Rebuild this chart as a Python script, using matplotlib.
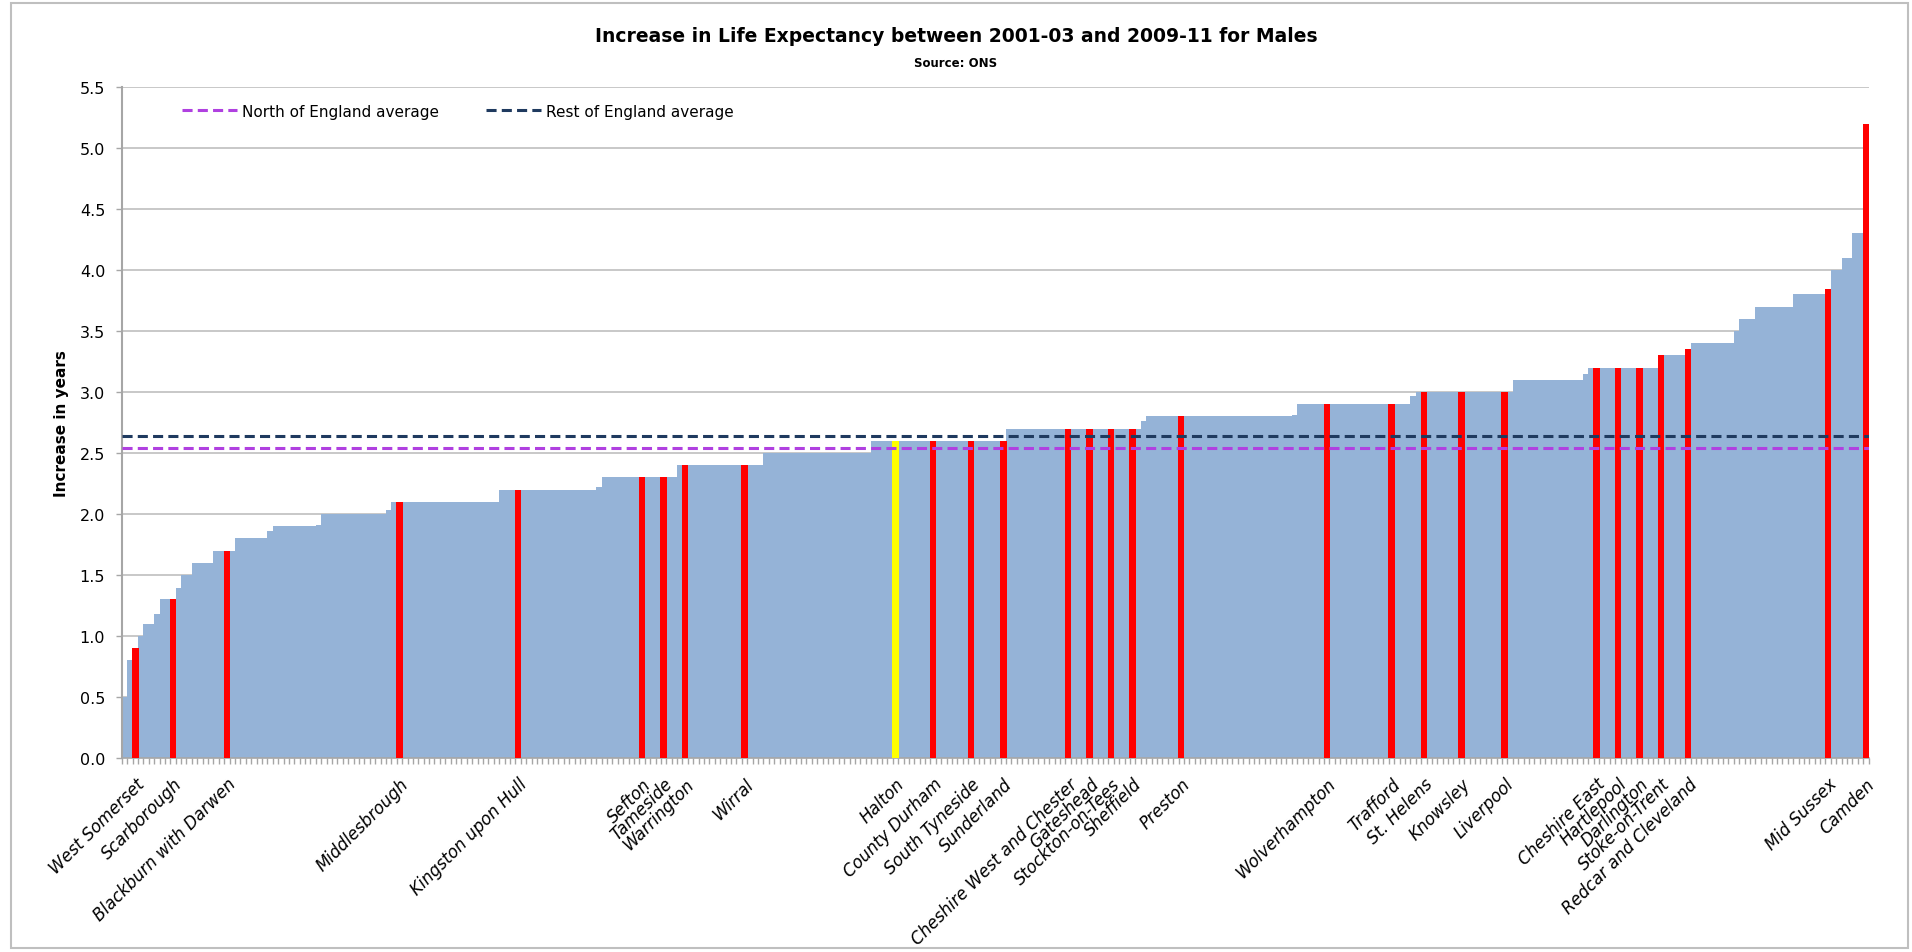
import matplotlib
matplotlib.use("Agg")
import matplotlib.pyplot as plt
from matplotlib.patches import Rectangle
import numpy as np

# increase in male life expectancy, 324 local authorities, sorted
values = [
    0.5, 0.8, 0.9, 1.0, 1.1, 1.1, 1.18, 1.3, 1.3, 1.3,
    1.39, 1.5, 1.5, 1.6, 1.6, 1.6, 1.6, 1.7, 1.7, 1.7,
    1.7, 1.8, 1.8, 1.8, 1.8, 1.8, 1.8, 1.86, 1.9, 1.9,
    1.9, 1.9, 1.9, 1.9, 1.9, 1.9, 1.91, 2.0, 2.0, 2.0,
    2.0, 2.0, 2.0, 2.0, 2.0, 2.0, 2.0, 2.0, 2.0, 2.03,
    2.1, 2.1, 2.1, 2.1, 2.1, 2.1, 2.1, 2.1, 2.1, 2.1,
    2.1, 2.1, 2.1, 2.1, 2.1, 2.1, 2.1, 2.1, 2.1, 2.1,
    2.2, 2.2, 2.2, 2.2, 2.2, 2.2, 2.2, 2.2, 2.2, 2.2,
    2.2, 2.2, 2.2, 2.2, 2.2, 2.2, 2.2, 2.2, 2.22, 2.3,
    2.3, 2.3, 2.3, 2.3, 2.3, 2.3, 2.3, 2.3, 2.3, 2.3,
    2.3, 2.3, 2.3, 2.4, 2.4, 2.4, 2.4, 2.4, 2.4, 2.4,
    2.4, 2.4, 2.4, 2.4, 2.4, 2.4, 2.4, 2.4, 2.4, 2.5,
    2.5, 2.5, 2.5, 2.5, 2.5, 2.5, 2.5, 2.5, 2.5, 2.5,
    2.5, 2.5, 2.5, 2.5, 2.5, 2.5, 2.5, 2.5, 2.5, 2.6,
    2.6, 2.6, 2.6, 2.6, 2.6, 2.6, 2.6, 2.6, 2.6, 2.6,
    2.6, 2.6, 2.6, 2.6, 2.6, 2.6, 2.6, 2.6, 2.6, 2.6,
    2.6, 2.6, 2.6, 2.6, 2.7, 2.7, 2.7, 2.7, 2.7, 2.7,
    2.7, 2.7, 2.7, 2.7, 2.7, 2.7, 2.7, 2.7, 2.7, 2.7,
    2.7, 2.7, 2.7, 2.7, 2.7, 2.7, 2.7, 2.7, 2.7, 2.76,
    2.8, 2.8, 2.8, 2.8, 2.8, 2.8, 2.8, 2.8, 2.8, 2.8,
    2.8, 2.8, 2.8, 2.8, 2.8, 2.8, 2.8, 2.8, 2.8, 2.8,
    2.8, 2.8, 2.8, 2.8, 2.8, 2.8, 2.8, 2.81, 2.9, 2.9,
    2.9, 2.9, 2.9, 2.9, 2.9, 2.9, 2.9, 2.9, 2.9, 2.9,
    2.9, 2.9, 2.9, 2.9, 2.9, 2.9, 2.9, 2.9, 2.9, 2.97,
    3.0, 3.0, 3.0, 3.0, 3.0, 3.0, 3.0, 3.0, 3.0, 3.0,
    3.0, 3.0, 3.0, 3.0, 3.0, 3.0, 3.0, 3.0, 3.1, 3.1,
    3.1, 3.1, 3.1, 3.1, 3.1, 3.1, 3.1, 3.1, 3.1, 3.1,
    3.1, 3.15, 3.2, 3.2, 3.2, 3.2, 3.2, 3.2, 3.2, 3.2,
    3.2, 3.2, 3.2, 3.2, 3.2, 3.3, 3.3, 3.3, 3.3, 3.3,
    3.35, 3.4, 3.4, 3.4, 3.4, 3.4, 3.4, 3.4, 3.4, 3.5,
    3.6, 3.6, 3.6, 3.7, 3.7, 3.7, 3.7, 3.7, 3.7, 3.7,
    3.8, 3.8, 3.8, 3.8, 3.8, 3.8, 3.84, 4.0, 4.0, 4.1,
    4.1, 4.3, 4.3, 5.2,
]

# rank position of the named areas
label_idx = [2, 9, 19, 51, 73, 96, 100, 104, 115, 143, 150, 157, 163, 175, 179,
             183, 187, 196, 223, 235, 241, 248, 256, 273, 277, 281, 285, 290, 316, 323]
label_names = ["West Somerset", "Scarborough", "Blackburn with Darwen", "Middlesbrough",
               "Kingston upon Hull", "Sefton", "Tameside", "Warrington", "Wirral", "Halton",
               "County Durham", "South Tyneside", "Sunderland", "Cheshire West and Chester",
               "Gateshead", "Stockton-on-Tees", "Sheffield", "Preston", "Wolverhampton",
               "Trafford", "St. Helens", "Knowsley", "Liverpool", "Cheshire East",
               "Hartlepool", "Darlington", "Stoke-on-Trent", "Redcar and Cleveland",
               "Mid Sussex", "Camden"]
focus_name = "Halton"

north_avg = 2.54
rest_avg = 2.64

fig = plt.figure(figsize=(19.12, 9.53), dpi=100)
ax = fig.add_axes([0.0637, 0.2036, 0.9136, 0.7041])

x = np.arange(len(values))
ax.bar(x, values, width=1.0, color="#95B3D7", linewidth=0, antialiased=False, zorder=2)

hv = [values[i] for i in label_idx]
hc = ["#FFFF00" if n == focus_name else "#FF0000" for n in label_names]
ax.bar(label_idx, hv, width=1.2, color=hc, linewidth=0, zorder=3)

ax.axhline(north_avg, color="#B040E0", lw=2.2, dashes=(3.3, 1.7), zorder=4,
           label="North of England average")
ax.axhline(rest_avg, color="#1F3A5F", lw=2.2, dashes=(3.3, 1.7), zorder=4,
           label="Rest of England average")

ax.set_xlim(-0.5, len(values) - 0.5)
ax.set_ylim(0, 5.5)
ax.set_yticks(np.arange(0, 5.51, 0.5))
ax.set_yticklabels(["%.1f" % t for t in np.arange(0, 5.51, 0.5)], fontsize=11.5)
ax.yaxis.grid(True, color="#BFBFBF", lw=1.2, zorder=0)
ax.set_axisbelow(True)

ax.set_xticks(label_idx)
ax.set_xticklabels(label_names, rotation=45, ha="right", rotation_mode="anchor",
                   fontsize=12, style="italic")
ax.set_xticks(np.arange(-0.5, len(values), 1), minor=True)
ax.tick_params(axis="x", which="major", length=0, pad=12)
ax.tick_params(axis="x", which="minor", length=4, color="#A6A6A6", width=1)
ax.tick_params(axis="y", length=4, color="#A6A6A6", width=1, pad=8)

for s in ["top", "right"]:
    ax.spines[s].set_visible(False)
ax.spines["left"].set_color("#A6A6A6")
ax.spines["left"].set_linewidth(1.5)
ax.spines["bottom"].set_color("#A6A6A6")
ax.spines["bottom"].set_linewidth(1.2)

ax.set_ylabel("Increase in years", fontsize=11, fontweight="bold",
              family=["Liberation Sans Narrow", "DejaVu Sans"], labelpad=8)

ax.legend(loc="upper left", bbox_to_anchor=(0.0345, 0.975), ncol=2, frameon=False,
          fontsize=11, handlelength=3.6, handletextpad=0.3, columnspacing=3.1,
          borderpad=0, borderaxespad=0)

fig.text(0.5, 0.9616, "Increase in Life Expectancy between 2001-03 and 2009-11 for Males",
         ha="center", va="center", fontsize=13.5, fontweight="bold")
fig.text(0.5, 0.9335, "Source: ONS", ha="center", va="center", fontsize=8.5, fontweight="bold")

fig.patches.append(Rectangle((0.006, 0.004), 0.992, 0.992, transform=fig.transFigure,
                             fill=False, edgecolor="#BFBFBF", lw=1.5))

plt.savefig("out.png", dpi=100)
